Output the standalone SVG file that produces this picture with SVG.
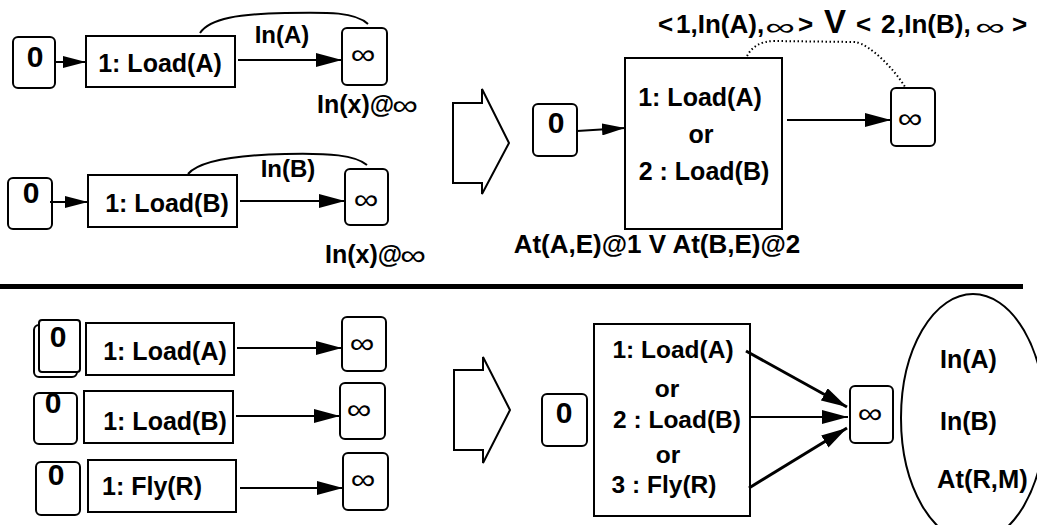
<svg xmlns="http://www.w3.org/2000/svg" width="1037" height="525" viewBox="0 0 1037 525">
<style>
.bx{fill:#fff;stroke:#000;stroke-width:2}
.t{font-family:"Liberation Sans",Arial,sans-serif;font-weight:bold;fill:#000}
.c{text-anchor:middle}
.inf{font-family:"Liberation Sans",Arial,sans-serif;font-weight:normal;fill:#000;text-anchor:middle;font-size:30px}
.inf2{font-family:"Liberation Sans",Arial,sans-serif;font-weight:normal;fill:#000;text-anchor:middle;font-size:26px}
.ln{stroke:#000;stroke-width:2;fill:none}
.cv{stroke:#000;stroke-width:2;fill:none}
</style>
<defs>
<marker id="ah" markerUnits="userSpaceOnUse" markerWidth="26" markerHeight="14" refX="26" refY="7" orient="auto">
<path d="M0,0 L26,7 L0,14 z" fill="#000"/>
</marker>
<marker id="ahs" markerUnits="userSpaceOnUse" markerWidth="23" markerHeight="12" refX="23" refY="6" orient="auto">
<path d="M0,0 L23,6 L0,12 z" fill="#000"/>
</marker>
</defs>
<rect width="1037" height="525" fill="#fff"/>

<!-- top left row 1 -->
<g id="n0a"><rect class="bx" x="13" y="37" width="42" height="51" rx="5"/><text class="t c" x="35" y="67" font-size="30">0</text></g>
<g id="loadA1"><rect class="bx" x="86" y="36" width="149" height="51"/><text class="t c" x="160" y="72" font-size="25">1: Load(A)</text></g>
<g id="infA1"><rect class="bx" x="342" y="28" width="45" height="57" rx="5"/><text class="inf" transform="translate(363,64) scale(1.15,0.95)">∞</text></g>
<text class="t c" x="282" y="43" font-size="24">In(A)</text>
<text class="t" x="317" y="113" font-size="25">In(x)@</text>
<text class="inf" transform="translate(405,115) scale(1.2,0.95)">∞</text>

<!-- top left row 2 -->
<g id="n0b"><rect class="bx" x="8" y="178" width="44" height="51" rx="5"/><text class="t c" x="31" y="203" font-size="30">0</text></g>
<g id="loadB1"><rect class="bx" x="88" y="175" width="149" height="52"/><text class="t c" x="167" y="212" font-size="25">1: Load(B)</text></g>
<g id="infB1"><rect class="bx" x="345" y="169" width="43" height="56" rx="5"/><text class="inf" transform="translate(366,209) scale(1.15,0.95)">∞</text></g>
<text class="t c" x="288" y="177" font-size="24">In(B)</text>
<text class="t" x="325" y="263" font-size="25">In(x)@</text>
<text class="inf" transform="translate(413,265) scale(1.2,0.95)">∞</text>

<!-- top right -->
<g id="chev1"><polygon class="bx" points="453,103 482,103 482,89 509,143 482,194 482,183 453,183"/></g>
<g id="n0c"><rect class="bx" x="533" y="104" width="44" height="52" rx="5"/><text class="t c" x="556" y="133" font-size="30">0</text></g>
<g id="orbox1"><rect class="bx" x="625" y="58" width="157" height="171"/>
<text class="t c" x="700" y="106" font-size="25">1: Load(A)</text>
<text class="t c" x="701" y="143" font-size="25">or</text>
<text class="t c" x="704" y="180" font-size="25">2 : Load(B)</text></g>
<g id="infC"><rect class="bx" x="891" y="88" width="44" height="58" rx="5"/><text class="inf" transform="translate(910,128) scale(1.15,0.95)">∞</text></g>
<text class="t" font-size="26" y="33"><tspan x="658">&lt;</tspan><tspan x="676">1,In(A),</tspan><tspan x="798">&gt;</tspan><tspan x="824" font-size="33">V</tspan><tspan x="856">&lt;</tspan><tspan x="881">2</tspan><tspan x="897">,In(B),</tspan><tspan x="1012">&gt;</tspan></text>
<text class="inf2" transform="translate(780,35) scale(1.6,0.9)">∞</text>
<text class="inf2" transform="translate(990,35) scale(1.6,0.9)">∞</text>
<text class="t c" x="657" y="253" font-size="26">At(A,E)@1 V At(B,E)@2</text>

<!-- separator -->
<rect x="0" y="284" width="1023" height="5" fill="#000"/>

<!-- bottom left -->
<g id="n0d"><rect class="bx" x="34" y="325" width="43" height="52" rx="5"/><rect class="bx" x="39" y="320" width="41" height="52" rx="3"/><text class="t c" x="58" y="347" font-size="30">0</text></g>
<g id="loadA2"><rect class="bx" x="86" y="323" width="148" height="52"/><text class="t c" x="165" y="360" font-size="25">1: Load(A)</text></g>
<g id="infD"><rect class="bx" x="342" y="317" width="44" height="54" rx="5"/><text class="inf" transform="translate(362,353) scale(1.15,0.95)">∞</text></g>

<g id="n0e"><rect class="bx" x="34" y="393" width="43" height="51" rx="5"/><text class="t c" x="53" y="413" font-size="30">0</text></g>
<g id="loadB2"><rect class="bx" x="84" y="391" width="149" height="52"/><text class="t c" x="165" y="430" font-size="25">1: Load(B)</text></g>
<g id="infE"><rect class="bx" x="340" y="383" width="45" height="56" rx="5"/><text class="inf" transform="translate(359,419) scale(1.15,0.95)">∞</text></g>

<g id="n0f"><rect class="bx" x="36" y="462" width="44" height="53" rx="5"/><text class="t c" x="56" y="485" font-size="30">0</text></g>
<g id="fly"><rect class="bx" x="88" y="460" width="148" height="52"/><text class="t c" x="152" y="495" font-size="25">1: Fly(R)</text></g>
<g id="infF"><rect class="bx" x="343" y="453" width="45" height="57" rx="5"/><text class="inf" transform="translate(363,489) scale(1.15,0.95)">∞</text></g>

<!-- bottom right -->
<g id="chev2"><polygon class="bx" points="454,370 483,370 483,357 510,410 483,463 483,450 454,450"/></g>
<g id="n0g"><rect class="bx" x="542" y="394" width="45" height="52" rx="5"/><text class="t c" x="564" y="423" font-size="30">0</text></g>
<g id="orbox2"><rect class="bx" x="594" y="324" width="156" height="192"/>
<text class="t c" x="673" y="358" font-size="24.5">1: Load(A)</text>
<text class="t c" x="667" y="397" font-size="24.5">or</text>
<text class="t c" x="677" y="428" font-size="24.5">2 : Load(B)</text>
<text class="t c" x="668" y="463" font-size="24.5">or</text>
<text class="t c" x="664" y="493" font-size="24.5">3 : Fly(R)</text></g>
<g id="infG"><rect class="bx" x="850" y="386" width="43" height="57" rx="5"/><text class="inf" transform="translate(870,423) scale(1.15,0.95)">∞</text></g>
<g id="goal"><ellipse cx="973" cy="418" rx="72" ry="124" fill="#fff" stroke="#000" stroke-width="2"/>
<text class="t" x="940" y="368" font-size="25">In(A)</text>
<text class="t" x="940" y="430" font-size="25">In(B)</text>
<text class="t" x="937" y="488" font-size="25.5">At(R,M)</text></g>

<g id="connectors">
<line class="ln" x1="55" y1="62" x2="86" y2="62" marker-end="url(#ahs)"/>
<line class="ln" x1="238" y1="60" x2="342" y2="60" marker-end="url(#ah)"/>
<path class="cv" d="M200,33 C210,18 240,14 285,13 C330,12 355,12 368,24"/>
<line class="ln" x1="50" y1="202" x2="88" y2="202" marker-end="url(#ahs)"/>
<line class="ln" x1="240" y1="201" x2="345" y2="201" marker-end="url(#ah)"/>
<path class="cv" d="M188,174 C200,160 240,155 285,154 C330,153 355,155 367,165"/>
<line class="ln" x1="577" y1="131" x2="625" y2="128" marker-end="url(#ahs)"/>
<line class="ln" x1="787" y1="120" x2="891" y2="120" marker-end="url(#ah)"/>
<path d="M747,56 C752,47 760,41 775,41 L855,42 C870,44 895,70 905,87" fill="none" stroke="#000" stroke-width="2" stroke-dasharray="1.5,2.5"/>
<line class="ln" x1="237" y1="348" x2="342" y2="348" marker-end="url(#ah)"/>
<line class="ln" x1="236" y1="416" x2="340" y2="416" marker-end="url(#ah)"/>
<line class="ln" x1="240" y1="488" x2="343" y2="488" marker-end="url(#ah)"/>
<line x1="746" y1="351" x2="847" y2="407" stroke="#000" stroke-width="3" marker-end="url(#ah)"/>
<line class="ln" x1="749" y1="417" x2="848" y2="417" marker-end="url(#ah)"/>
<line x1="749" y1="488" x2="847" y2="428" stroke="#000" stroke-width="3" marker-end="url(#ah)"/>
</g>
</svg>
